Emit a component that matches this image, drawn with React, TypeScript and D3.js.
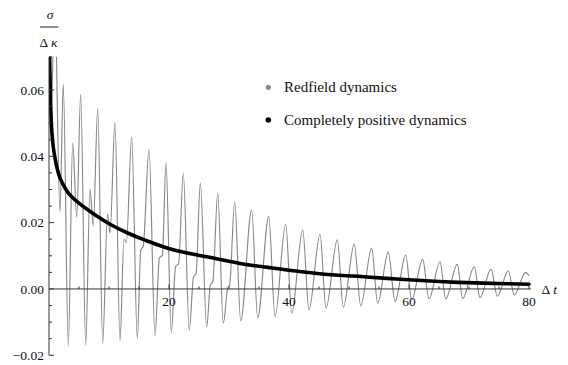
import React from 'react';
import * as d3 from 'd3';

const W = 568;
const H = 365;

// x ticks
const xMajorTicks = [20, 40, 60, 80];
const xMinorStep = 5;
// y ticks
const yMajorTicks = [-0.02, 0, 0.02, 0.04, 0.06];
const yMajorLabels = ['\u22120.02', '0.00', '0.02', '0.04', '0.06'];
const yMinorStep = 0.005;

// Legend
const legendLabels = ['Redfield dynamics', 'Completely positive dynamics'];

// Redfield dynamics (extrema)
const redfieldT = [
  0.0, 0.42, 0.92, 1.83, 2.38, 3.22, 3.95, 4.62, 5.28, 6.12, 6.83, 7.38, 8.12, 8.95,
  9.75, 10.17, 11.0, 11.83, 12.5, 12.9, 13.78, 14.72, 15.3, 15.7, 16.67, 17.67,
  18.4, 18.9, 19.5, 20.38, 21.1, 21.6, 22.38, 23.38, 24.1, 24.5, 25.22, 26.28,
  26.9, 27.3, 28.12, 29.05, 29.8, 30.1, 30.95, 31.95, 33.78, 34.78, 36.62, 37.67,
  39.45, 40.45, 42.28, 43.33, 45.17, 46.17, 48.05, 49.05, 50.88, 51.95, 53.78,
  54.78, 56.55, 57.67, 59.45, 60.45, 62.28, 63.33, 65.17, 66.12, 68.05, 68.95,
  70.88, 71.83, 73.67, 74.72, 76.55, 77.55, 79.45, 80.0,
];
const redfieldV = [
  0.095, 0.055, 0.09, 0.0233, 0.0617, -0.0171, 0.0441, 0.0216, 0.0587, -0.0169, 0.0301, 0.0191, 0.0545, -0.0164,
  0.0225, 0.0168, 0.0503, -0.0157, 0.015, 0.014, 0.0459, -0.0149, 0.0118, 0.0128, 0.0422, -0.0141,
  0.0094, 0.0102, 0.0381, -0.0132, 0.0068, 0.0076, 0.0349, -0.0124, 0.0038, 0.0046, 0.0319, -0.0114,
  0.0013, 0.0022, 0.0289, -0.0103, 0.0003, 0.0011, 0.0263, -0.0096, 0.0238, -0.0088, 0.0218, -0.0083,
  0.0196, -0.0073, 0.0178, -0.0063, 0.0165, -0.0058, 0.0148, -0.0055, 0.0136, -0.0051, 0.0123,
  -0.0043, 0.0111, -0.0038, 0.0102, -0.0033, 0.009, -0.003, 0.0082, -0.003, 0.0074, -0.0029,
  0.0067, -0.0026, 0.006, -0.0022, 0.0055, -0.0018, 0.005, 0.004,
];

// Completely positive dynamics
const cpT = [0.02, 0.1, 0.25, 0.45, 0.7, 1.0, 1.4, 1.83, 2.5, 3.2, 4.9, 7.7, 10.4, 13.2, 15.9, 20.7, 26.3, 31.8, 36.5, 42.1, 47.7, 52.4, 57.9, 63.5, 68.2, 73.8, 80];
const cpV = [0.095, 0.07, 0.057, 0.048, 0.043, 0.0395, 0.036, 0.0335, 0.031, 0.029, 0.026, 0.0223, 0.0193, 0.0168, 0.0148, 0.0118, 0.0097, 0.0077, 0.0065, 0.0052, 0.0042, 0.0037, 0.003, 0.0024, 0.002, 0.0017, 0.0014];

const FONT = "'Liberation Serif', 'Times New Roman', Times, 'DejaVu Serif', serif";

export default function App() {
  const x = d3.scaleLinear().domain([0, 80]).range([49, 529]);
  const y = d3.scaleLinear().domain([-0.02, 0.07]).range([355.3, 56.8]);

  const line = d3
    .line<[number, number]>()
    .x((d) => x(d[0]))
    .y((d) => y(d[1]))
    .curve(d3.curveMonotoneX);

  const cpLine = d3
    .line<[number, number]>()
    .x((d) => x(d[0]))
    .y((d) => y(d[1]))
    .curve(d3.curveCatmullRom.alpha(0.5));

  const redData: [number, number][] = redfieldT.map((t, i) => [t, redfieldV[i]]);
  const cpData: [number, number][] = cpT.map((t, i) => [t, cpV[i]]);

  const xMinor = d3.range(xMinorStep, 80 + 1e-9, xMinorStep).filter((v) => !xMajorTicks.includes(v));
  const yMinor = d3
    .range(-0.02, 0.07 + 1e-9, yMinorStep)
    .map((v) => Math.round(v * 1000) / 1000)
    .filter((v) => !yMajorTicks.some((m) => Math.abs(m - v) < 1e-9));

  const axisColor = '#333';
  const x0 = x(0);
  const y0 = y(0);
  const ts = { fontFamily: FONT };

  return (
    <svg
      width={W}
      height={H}
      style={{ position: 'absolute', left: 0, top: 0, background: '#fff', fontFamily: FONT }}
    >
      <defs>
        <clipPath id="plotClip">
          <rect x={x0} y={y(0.07)} width={W - x0} height={y(-0.02) - y(0.07) + 5} />
        </clipPath>
      </defs>

      {/* curves */}
      <g clipPath="url(#plotClip)">
        <path d={line(redData) || ''} fill="none" stroke="#878787" strokeWidth={1.15} />
        <path d={cpLine(cpData) || ''} fill="none" stroke="#000" strokeWidth={3.6} strokeLinecap="round" />
      </g>

      {/* axes */}
      <line x1={x0} x2={x0} y1={y(0.07)} y2={y(-0.02)} stroke={axisColor} strokeWidth={1} />
      <line x1={x0} x2={x(80) + 2} y1={y0} y2={y0} stroke={axisColor} strokeWidth={1} />

      {/* x ticks */}
      {xMajorTicks.map((t) => (
        <g key={'xm' + t}>
          <line x1={x(t)} x2={x(t)} y1={y0} y2={y0 - 4.5} stroke={axisColor} strokeWidth={1} />
          <text x={x(t)} y={y0 + 17.5} textAnchor="middle" fontSize={13.5} fill="#111" style={ts}>
            {t}
          </text>
        </g>
      ))}
      {xMinor.map((t) => (
        <line key={'xn' + t} x1={x(t)} x2={x(t)} y1={y0} y2={y0 - 2.5} stroke={axisColor} strokeWidth={1} />
      ))}

      {/* y ticks */}
      {yMajorTicks.map((v, i) => (
        <g key={'ym' + v}>
          <line x1={x0} x2={x0 + 5} y1={y(v)} y2={y(v)} stroke={axisColor} strokeWidth={1} />
          <text x={44} y={y(v) + 4.6} textAnchor="end" fontSize={13.5} fill="#111" style={ts}>
            {yMajorLabels[i]}
          </text>
        </g>
      ))}
      {yMinor.map((v) => (
        <line key={'yn' + v} x1={x0} x2={x0 + 3} y1={y(v)} y2={y(v)} stroke={axisColor} strokeWidth={1} />
      ))}

      {/* y axis label: sigma over delta kappa */}
      <text x={50} y={18.5} textAnchor="middle" fontSize={13.5} fontStyle="italic" fill="#111" style={ts}>
        σ
      </text>
      <line x1={40} x2={58.5} y1={27} y2={27} stroke="#222" strokeWidth={1} />
      <text x={48.5} y={46.5} textAnchor="middle" fontSize={13.5} fill="#111" style={ts}>
        <tspan>Δ</tspan>
        <tspan dx={3} fontStyle="italic">κ</tspan>
      </text>

      {/* x axis label */}
      <text x={541.5} y={293.5} fontSize={13.5} fill="#111" style={ts}>
        <tspan>Δ</tspan>
        <tspan dx={3} fontStyle="italic">t</tspan>
      </text>

      {/* legend */}
      <circle cx={268.3} cy={87.3} r={2.6} fill="#8c8c8c" />
      <text x={284} y={92} fontSize={15} fill="#111" style={ts}>
        {legendLabels[0]}
      </text>
      <circle cx={268.3} cy={120} r={2.8} fill="#000" />
      <text x={284} y={124.7} fontSize={15} fill="#111" style={ts}>
        {legendLabels[1]}
      </text>
    </svg>
  );
}
